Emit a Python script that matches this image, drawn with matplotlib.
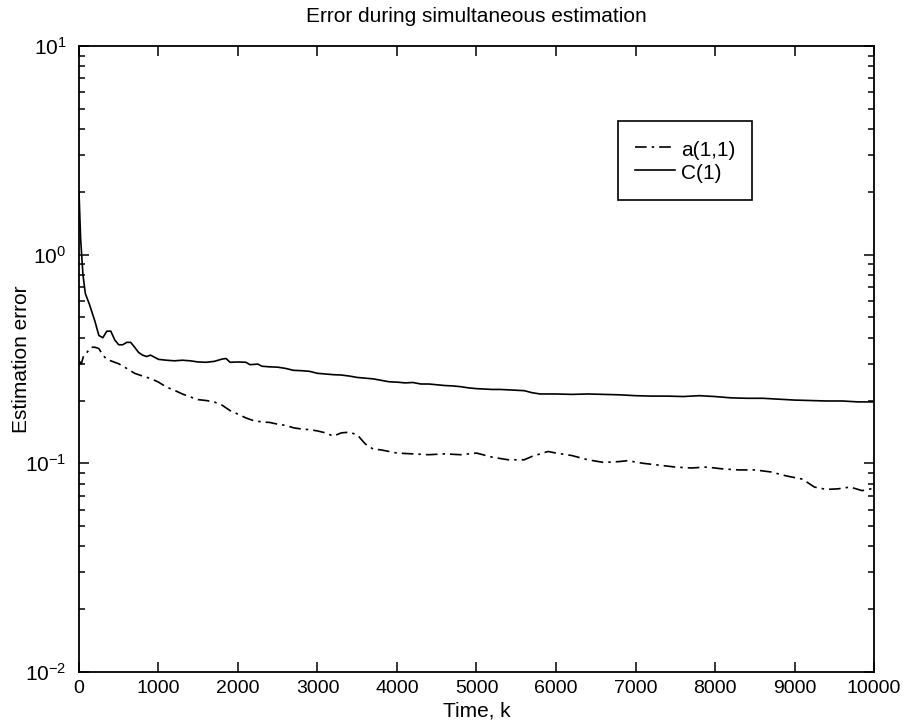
import numpy as np
import matplotlib.pyplot as plt

plt.rcParams['font.family'] = ['Liberation Sans', 'DejaVu Sans']

# 读图得到的数据
k_c = [0, 20, 50, 80, 130, 200, 250, 300, 350, 400, 450, 500, 550, 600, 650,
       700, 750, 800, 850, 900, 1000, 1100, 1200, 1300, 1400, 1500, 1600,
       1700, 1800, 1850, 1900, 2000, 2100, 2150, 2250, 2300, 2400, 2500,
       2600, 2700, 2800, 2900, 3000, 3100, 3200, 3300, 3400, 3500, 3600,
       3700, 3800, 3900, 4000, 4100, 4200, 4300, 4400, 4500, 4600, 4700,
       4800, 4900, 5000, 5100, 5200, 5300, 5400, 5500, 5600, 5700, 5800,
       6000, 6200, 6400, 6600, 6800, 7000, 7200, 7400, 7600, 7800, 8000,
       8200, 8400, 8600, 8800, 9000, 9200, 9400, 9600, 9800, 10000]
err_c = [2.0, 1.2, 0.8, 0.65, 0.58, 0.48, 0.41, 0.40, 0.43, 0.43, 0.39, 0.37,
         0.37, 0.38, 0.38, 0.36, 0.34, 0.33, 0.325, 0.33, 0.315, 0.312, 0.31,
         0.312, 0.31, 0.306, 0.305, 0.308, 0.316, 0.318, 0.305, 0.306, 0.305,
         0.297, 0.299, 0.292, 0.29, 0.289, 0.285, 0.279, 0.278, 0.276, 0.27,
         0.268, 0.266, 0.265, 0.262, 0.258, 0.256, 0.254, 0.25, 0.246, 0.245,
         0.243, 0.244, 0.24, 0.24, 0.238, 0.236, 0.235, 0.233, 0.23, 0.228,
         0.227, 0.226, 0.226, 0.225, 0.224, 0.223, 0.218, 0.215, 0.215, 0.214,
         0.215, 0.214, 0.213, 0.211, 0.21, 0.21, 0.209, 0.211, 0.209, 0.206,
         0.205, 0.205, 0.203, 0.201, 0.2, 0.199, 0.199, 0.197, 0.197]

k_a = [0, 30, 60, 100, 150, 200, 250, 300, 350, 400, 500, 600, 700, 800, 900,
       1000, 1100, 1200, 1300, 1400, 1500, 1600, 1700, 1800, 1900, 2000, 2100,
       2200, 2300, 2400, 2500, 2600, 2700, 2800, 2900, 3000, 3100, 3200, 3300,
       3400, 3500, 3600, 3700, 3800, 3900, 4000, 4200, 4400, 4600, 4800, 5000,
       5200, 5400, 5600, 5700, 5900, 6000, 6200, 6400, 6600, 6800, 6900, 7100,
       7300, 7500, 7700, 7900, 8100, 8300, 8500, 8700, 8900, 9100, 9250, 9400,
       9550, 9700, 9850, 10000]
err_a = [0.31, 0.30, 0.33, 0.34, 0.36, 0.36, 0.355, 0.33, 0.315, 0.31, 0.30,
         0.285, 0.27, 0.262, 0.255, 0.245, 0.232, 0.224, 0.215, 0.208, 0.202,
         0.2, 0.197, 0.19, 0.179, 0.172, 0.165, 0.16, 0.158, 0.157, 0.154,
         0.152, 0.148, 0.146, 0.145, 0.143, 0.14, 0.135, 0.14, 0.141, 0.137,
         0.124, 0.117, 0.116, 0.114, 0.112, 0.111, 0.11, 0.111, 0.11, 0.112,
         0.107, 0.104, 0.104, 0.108, 0.114, 0.112, 0.109, 0.104, 0.101, 0.102,
         0.103, 0.1, 0.098, 0.096, 0.095, 0.096, 0.094, 0.093, 0.093, 0.091,
         0.087, 0.084, 0.077, 0.075, 0.0755, 0.077, 0.074, 0.076]

fig = plt.figure(figsize=(9.09, 7.23), dpi=100)
ax = fig.add_axes([0.0869, 0.0705, 0.8746, 0.8659])

ax.semilogy(k_a, err_a, color="black", lw=1.2,
            linestyle=(0, (7, 3, 1.5, 3)), label="a(1,1)")
ax.semilogy(k_c, err_c, color="black", lw=1.2, label="C(1)")

ax.set_xlim(0, 10000)
ax.set_ylim(1e-2, 1e1)
ax.set_xticks(np.arange(0, 10001, 1000))
ax.tick_params(which="both", direction="in", top=True, right=True, width=1.1)
ax.tick_params(which="major", length=7)
ax.tick_params(which="minor", length=4)
ax.tick_params(axis="x", labelsize=14, pad=6)
ax.tick_params(axis="y", labelsize=15, pad=9)
for s in ax.spines.values():
    s.set_linewidth(1.3)

ax.set_title("Error during simultaneous estimation", fontsize=15, pad=17)
ax.set_xlabel("Time, k", fontsize=15, labelpad=3)
ax.set_ylabel("Estimation error", fontsize=15, labelpad=-4)

leg = ax.legend(loc="upper left", bbox_to_anchor=(0.68, 0.8326),
                bbox_transform=fig.transFigure, borderaxespad=0,
                fontsize=15, fancybox=False, framealpha=1,
                edgecolor="black", handlelength=1.9, handleheight=1.2,
                handletextpad=0.3, borderpad=0.82, labelspacing=0.05)
leg.get_frame().set_linewidth(1.2)

fig.savefig("out.png", dpi=100)
